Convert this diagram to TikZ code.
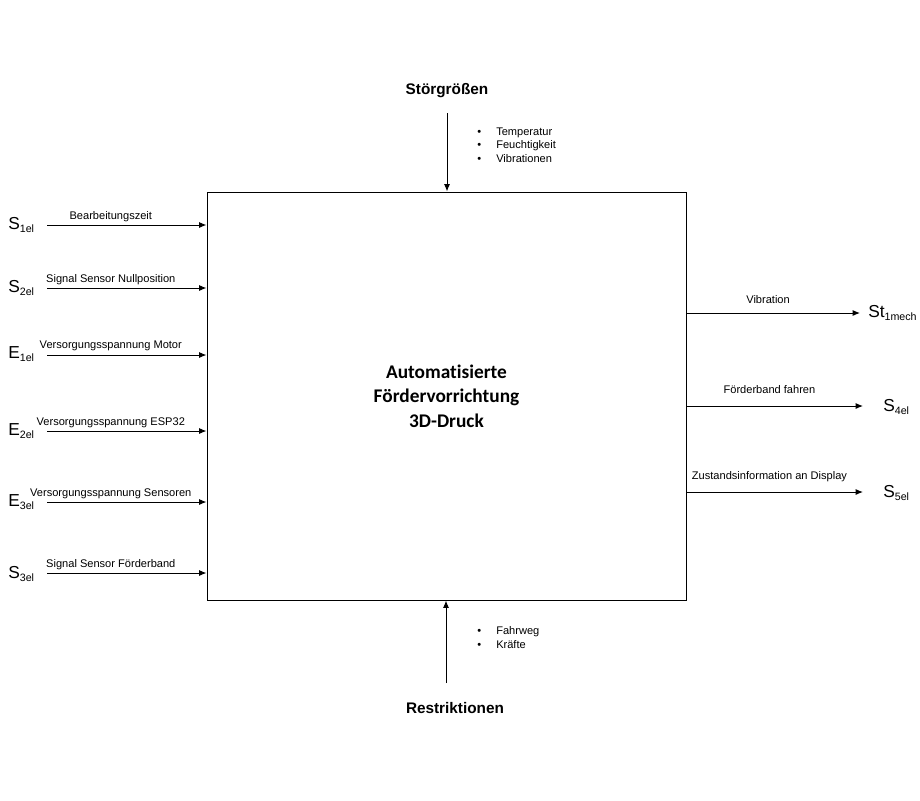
\documentclass[tikz,border=0pt]{standalone}
\usepackage{fontspec}
\setmainfont{Liberation Sans}
\newfontfamily\titlefont{Carlito}[Ligatures=NoCommon]
\usetikzlibrary{positioning,arrows.meta}
\newcommand{\varname}[2]{{\fontsize{13}{13}\selectfont #1}\raisebox{-0.25em}{\fontsize{8}{8}\selectfont #2}}
\newcommand{\bulletitem}[1]{\makebox[14.25pt][l]{\textbullet}#1}

\begin{document}
\begin{tikzpicture}[x=0.75pt,y=-0.75pt,
  pfeil/.style={line width=0.75pt,-{Latex[length=5.5pt,width=4.5pt]}},
  lbl/.style={font=\fontsize{8.3}{10}\selectfont,inner sep=0pt,anchor=base},
  var/.style={inner sep=0pt,anchor=base west},
  head/.style={font=\fontsize{11.5}{13}\selectfont\bfseries,inner sep=0pt,anchor=base},
  liste/.style={font=\fontsize{8.3}{10.1}\selectfont,inner sep=0pt,anchor=base west,align=left}]
\useasboundingbox (0,0) rectangle (920,800);
\node[draw,line width=0.75pt,minimum width=359.25pt,minimum height=306pt,inner sep=0pt,
  align=center,font=\titlefont\fontsize{14.5}{18.3}\selectfont\bfseries] (sys) at (446.5,396)
  {Automatisierte\\Fördervorrichtung\\3D-Druck};

% Eingaenge
\node[var] (s1) at (8,229) {\varname{S}{1el}};
\node[var] (s2) at (8,292) {\varname{S}{2el}};
\node[var] (e1) at (8,358) {\varname{E}{1el}};
\node[var] (e2) at (8,435) {\varname{E}{2el}};
\node[var] (e3) at (8,506) {\varname{E}{3el}};
\node[var] (s3) at (8,578) {\varname{S}{3el}};
\coordinate (in1) at (47,225);
\coordinate (in2) at (47,288);
\coordinate (in3) at (47,355);
\coordinate (in4) at (47,431);
\coordinate (in5) at (47,502);
\coordinate (in6) at (47,573);
\draw[pfeil] (in1) -- (in1 -| sys.west) node[lbl,pos=.4,yshift=4.5pt] (l1) {Bearbeitungszeit};
\draw[pfeil] (in2) -- (in2 -| sys.west) node[lbl,pos=.4,yshift=4.5pt] (l2) {Signal Sensor Nullposition};
\draw[pfeil] (in3) -- (in3 -| sys.west) node[lbl,pos=.4,yshift=5pt] (l3) {Versorgungsspannung Motor};
\draw[pfeil] (in4) -- (in4 -| sys.west) node[lbl,pos=.4,yshift=4pt] (l4) {Versorgungsspannung ESP32};
\draw[pfeil] (in5) -- (in5 -| sys.west) node[lbl,pos=.4,yshift=4pt] (l5) {Versorgungsspannung Sensoren};
\draw[pfeil] (in6) -- (in6 -| sys.west) node[lbl,pos=.4,yshift=4.5pt] (l6) {Signal Sensor Förderband};

% Ausgaenge
\coordinate (out1) at (860,313);
\coordinate (out2) at (863,406);
\coordinate (out3) at (863,492);
\draw[pfeil] (out1 -| sys.east) -- (out1) node[lbl,pos=.47,yshift=7.5pt] (r1) {Vibration};
\draw[pfeil] (out2 -| sys.east) -- (out2) node[lbl,pos=.47,yshift=9.5pt] (r2) {Förderband fahren};
\draw[pfeil] (out3 -| sys.east) -- (out3) node[lbl,pos=.47,yshift=9.5pt] (r3) {Zustandsinformation an Display};
\node[var] (st1) at (868,317) {\varname{St}{1mech}};
\node[var] (s4) at (883,411) {\varname{S}{4el}};
\node[var] (s5) at (883,497) {\varname{S}{5el}};

% Stoergroessen und Restriktionen
\node[head] (stoer) at (447,94) {Störgrößen};
\coordinate (st) at (447,113);
\draw[pfeil] (st) -- (st |- sys.north);
\node[liste] (stliste) at (477,162) {\bulletitem{Temperatur}\\\bulletitem{Feuchtigkeit}\\\bulletitem{Vibrationen}};
\node[head] (restr) at (455,713) {Restriktionen};
\coordinate (re) at (446,683);
\draw[pfeil] (re) -- (re |- sys.south);
\node[liste] (reliste) at (477,648) {\bulletitem{Fahrweg}\\\bulletitem{Kräfte}};
\end{tikzpicture}
\end{document}
